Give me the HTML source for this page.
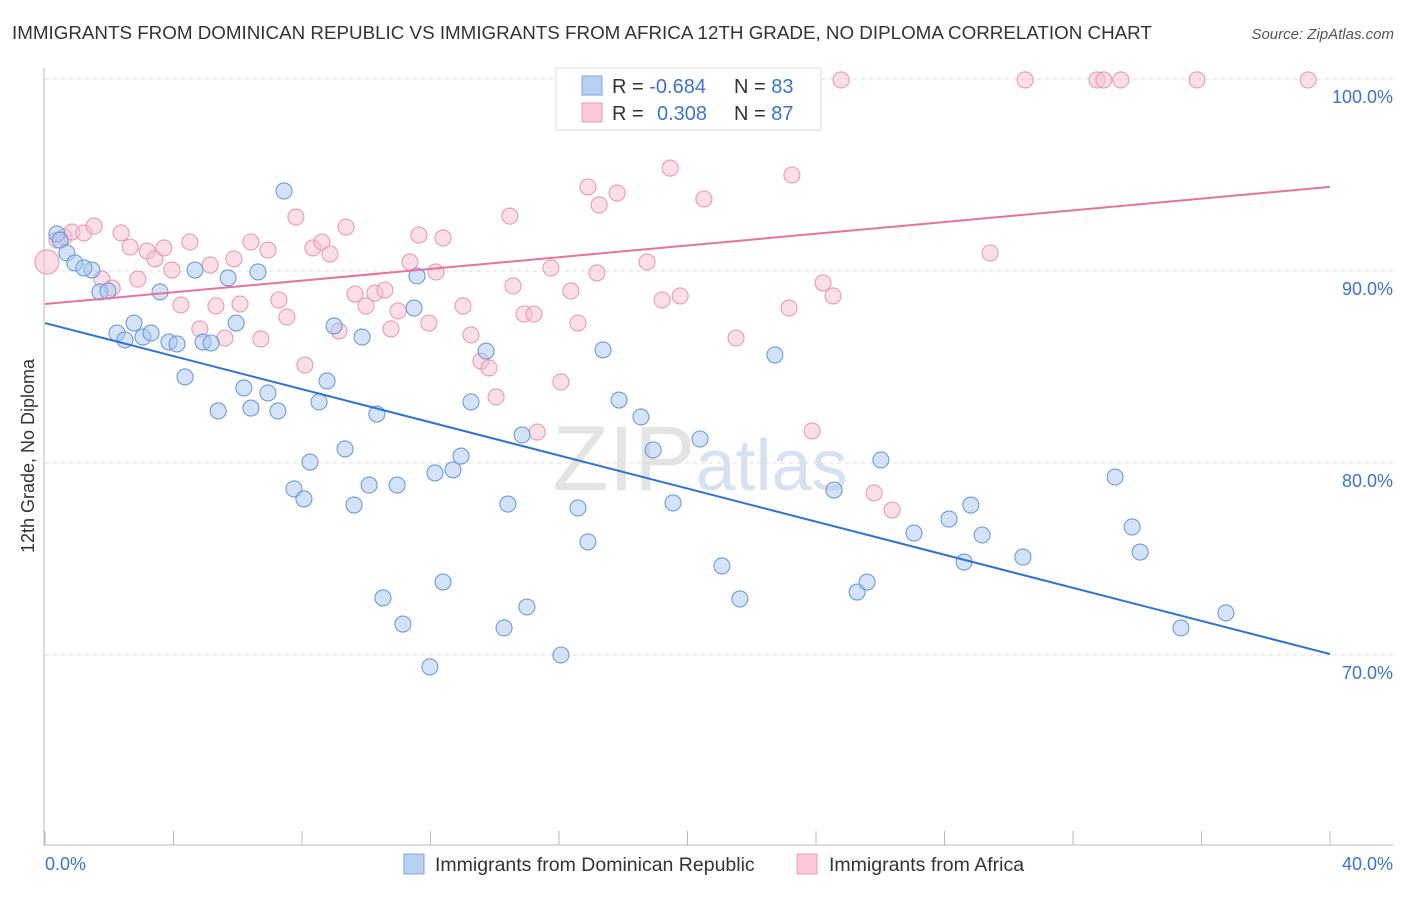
<!DOCTYPE html>
<html><head><meta charset="utf-8"><style>
body{margin:0;background:#fff;font-family:"Liberation Sans",sans-serif;}
svg text{font-family:"Liberation Sans",sans-serif;}
</style></head><body>
<svg id="chart" width="1406" height="892" viewBox="0 0 1406 892" xmlns="http://www.w3.org/2000/svg">
<text x="12" y="39" font-size="18.8" fill="#333">IMMIGRANTS FROM DOMINICAN REPUBLIC VS IMMIGRANTS FROM AFRICA 12TH GRADE, NO DIPLOMA CORRELATION CHART</text>
<text x="1394" y="39" font-size="15" fill="#555" font-style="italic" text-anchor="end">Source: ZipAtlas.com</text>
<text x="700" y="490" font-size="92" fill="#e4e4e4" text-anchor="middle" font-family="Liberation Serif">ZIP<tspan fill="#d6e2f2" font-family="Liberation Sans" font-size="72">atlas</tspan></text>
<g id="grid"></g>
<g id="axes"></g>
<g id="points"></g>
<g id="lines"></g>
<text transform="translate(34,456) rotate(-90)" font-size="18" fill="#333" text-anchor="middle">12th Grade, No Diploma</text>
<text x="45" y="870" font-size="18" fill="#3a74d0">0.0%</text>
<text x="1393" y="870" font-size="18" fill="#3a74d0" text-anchor="end">40.0%</text>
<g>
<rect x="556" y="68" width="265" height="62" fill="#fff" stroke="#ddd"/>
<rect x="582" y="76" width="20" height="19" fill="#b8d1f3" stroke="#7fa7e0"/>
<rect x="582" y="103" width="20" height="19" fill="#fbc9d7" stroke="#ee9bb5"/>
<text x="612" y="93" font-size="20" fill="#333">R = <tspan fill="#3a74d0">-0.684</tspan></text>
<text x="734" y="93" font-size="20" fill="#333">N = <tspan fill="#3a74d0">83</tspan></text>
<text x="612" y="120" font-size="20" fill="#333">R = <tspan fill="#3a74d0" x="657">0.308</tspan></text>
<text x="734" y="120" font-size="20" fill="#333">N = <tspan fill="#3a74d0">87</tspan></text>
</g>
<g>
<rect x="404" y="854" width="20" height="20" fill="#b8d1f3" stroke="#7fa7e0"/>
<text x="435" y="871" font-size="19.5" fill="#333">Immigrants from Dominican Republic</text>
<rect x="797" y="854" width="20" height="20" fill="#fbc9d7" stroke="#ee9bb5"/>
<text x="829" y="871" font-size="19.5" fill="#333">Immigrants from Africa</text>
</g>
</svg>
<script>
const yTicks=[100,90,80,70];
const yTickLabels=["100.0%","90.0%","80.0%","70.0%"];
const xTicks=[0,4,8,12,16,20,24,28,32,36,40];
const blueX=[0.37,0.47,0.68,0.93,1.46,1.21,1.71,1.96,2.24,2.49,2.77,3.05,3.30,3.58,3.86,4.11,4.36,4.67,4.92,5.17,5.39,5.70,5.95,6.19,6.41,6.63,6.94,7.25,7.44,7.75,8.06,8.25,8.53,8.78,9.00,9.34,9.62,9.87,10.09,10.33,10.52,10.96,11.14,11.49,11.58,11.98,12.14,12.39,12.70,12.95,13.26,13.73,14.29,14.41,14.85,15.00,16.06,16.59,16.90,17.37,17.87,18.55,18.93,19.55,20.39,21.07,21.63,22.72,24.56,25.28,25.59,26.02,27.05,28.14,28.61,28.82,29.17,30.44,33.31,33.84,34.09,35.36,36.76];
const blueY=[91.93,91.61,90.94,90.42,90.05,90.16,88.91,88.96,86.77,86.41,87.29,86.56,86.77,88.91,86.30,86.20,84.48,90.05,86.30,86.25,82.71,89.64,87.29,83.91,82.86,89.95,83.65,82.71,94.17,78.65,78.13,80.05,83.18,84.27,87.14,80.73,77.81,86.56,78.85,82.55,72.97,78.85,71.61,88.07,89.74,69.38,79.48,73.80,79.64,80.36,83.18,85.83,71.41,77.86,81.46,72.50,70.00,77.66,75.89,85.89,83.28,82.40,80.68,77.92,81.25,74.64,72.92,85.63,78.59,73.28,73.80,80.16,76.35,77.08,74.84,77.81,76.25,75.10,79.27,76.67,75.36,71.41,72.19];
const pinkX=[0.06,0.37,0.59,0.84,1.21,1.53,1.77,2.09,2.37,2.65,2.89,3.18,3.42,3.70,3.95,4.23,4.51,4.82,5.14,5.32,5.60,5.88,6.07,6.41,6.72,6.94,7.28,7.53,7.81,8.09,8.34,8.62,8.87,9.15,9.37,9.65,9.99,10.27,10.58,10.77,10.99,11.36,11.64,11.95,12.17,12.39,13.01,13.26,13.57,13.82,14.04,14.47,14.57,14.91,15.22,15.32,15.75,16.06,16.37,16.59,16.90,17.18,17.25,17.81,18.74,19.21,19.46,19.77,20.51,21.51,23.16,23.25,23.88,24.22,24.53,24.78,25.81,26.37,29.42,30.51,32.75,32.96,33.49,35.86,39.32,21.95];
const pinkY=[90.47,91.61,91.77,92.03,91.98,92.34,89.58,89.11,91.98,91.25,89.58,91.04,90.63,91.20,90.05,88.23,91.51,86.98,90.31,88.18,86.51,90.63,88.28,91.51,86.46,91.09,88.49,87.60,92.81,85.10,91.20,91.51,90.89,86.88,92.29,88.80,88.18,88.85,89.01,86.98,87.92,90.47,91.87,87.29,89.95,91.72,88.18,86.67,85.31,84.95,83.44,92.86,89.22,87.76,87.76,81.61,90.16,84.22,88.96,87.29,94.38,89.90,93.44,94.06,90.47,88.49,95.36,88.70,93.75,86.51,88.07,95.00,81.67,89.38,88.70,99.95,78.44,77.55,90.94,99.95,99.95,99.95,99.95,99.95,99.95,99.95];
const blueTrendX=[0,40];
const blueTrendY=[87.29,70.05];
const pinkTrendX=[0,40];
const pinkTrendY=[88.28,94.38];

const NS="http://www.w3.org/2000/svg";
const X0=45,X1=1330,Y100=79,PXPER=19.2;
function sx(v){return X0+(v/40)*(X1-X0);}
function sy(v){return Y100+(100-v)*PXPER;}
function mk(tag,attrs,parent){const e=document.createElementNS(NS,tag);for(const k in attrs)e.setAttribute(k,attrs[k]);parent.appendChild(e);return e;}
const grid=document.getElementById('grid'),axes=document.getElementById('axes'),pts=document.getElementById('points'),lines=document.getElementById('lines');
yTicks.forEach((t,i)=>{
  const l=mk('line',{x1:45,x2:1393,y1:sy(t),y2:sy(t),stroke:'#ddd','stroke-dasharray':'4,4'},grid);
  
  
  const tx=mk('text',{x:1393,y:sy(t)+24,'font-size':18,fill:'#3a74d0','text-anchor':'end'},grid);
  tx.textContent=yTickLabels[i];
  
  
});
const ya=mk('line',{x1:44,x2:44,y1:68,y2:846,stroke:'#bbb'},axes);


const xa=mk('line',{x1:44,x2:1393,y1:845,y2:845,stroke:'#bbb'},axes);


xTicks.forEach(t=>{
  const l=mk('line',{x1:sx(t),x2:sx(t),y1:831,y2:845,stroke:'#bbb'},axes);
  
  
});
function dots(xs,ys,fill,stroke,name){
  xs.forEach((x,i)=>{
    const c=mk('circle',{cx:sx(x),cy:sy(ys[i]),r:(i===0&&name==='pink-point')?12:8,fill:fill,'fill-opacity':0.5,stroke:stroke,'stroke-width':1.1},pts);
    
    
  });
}
dots(pinkX,pinkY,'#f7bfd0','#ea9ab4','pink-point');
dots(blueX,blueY,'#a9c7ef','#6d9bdb','blue-point');
const bl=mk('line',{x1:sx(blueTrendX[0]),y1:sy(blueTrendY[0]),x2:sx(blueTrendX[1]),y2:sy(blueTrendY[1]),stroke:'#2e72d8','stroke-width':2},lines);


const pl=mk('line',{x1:sx(pinkTrendX[0]),y1:sy(pinkTrendY[0]),x2:sx(pinkTrendX[1]),y2:sy(pinkTrendY[1]),stroke:'#e8729a','stroke-width':2},lines);


</script>
</body></html>
